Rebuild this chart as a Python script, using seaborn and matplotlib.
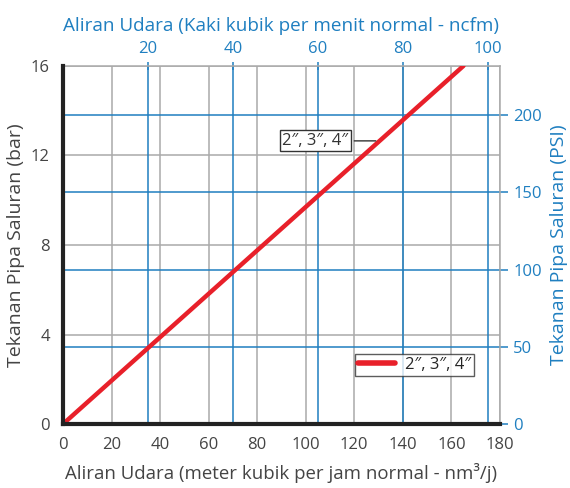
import pandas as pd
import matplotlib.pyplot as plt
import seaborn as sns

# Data: line for 2", 3", 4" pipes
flow_nm3h = [0, 165]
pressure_bar = [0, 16]
series_label = "2\u2033, 3\u2033, 4\u2033"

x_ticks = [0, 20, 40, 60, 80, 100, 120, 140, 160, 180]
y_ticks = [0, 4, 8, 12, 16]
ncfm_ticks = [20, 40, 60, 80, 100]
psi_ticks = [0, 50, 100, 150, 200]

NM3H_PER_NCFM = 1.75
PSI_PER_BAR = 14.5

df = pd.DataFrame({"flow": flow_nm3h, "bar": pressure_bar, "pipe": series_label})

sns.set_style("white")
plt.rcParams['font.family'] = ['Open Sans', 'DejaVu Sans']

grey = "#444444"
blue = "#1f7fc0"
gridgrey = "#aaaaaa"

fig = plt.figure(figsize=(5.7, 4.88), dpi=100)
ax = fig.add_axes([0.1105, 0.131, 0.7665, 0.734])

# grey grid (bottom/left scale)
for xv in x_ticks[1:]:
    ax.axvline(xv, color=gridgrey, lw=1.1, zorder=1)
for yv in y_ticks[1:]:
    ax.axhline(yv, color=gridgrey, lw=1.1, zorder=1)
# blue grid (top/right scale)
for t in ncfm_ticks:
    ax.axvline(t * NM3H_PER_NCFM, color=blue, lw=1.1, zorder=1.5)
for p in psi_ticks[1:]:
    ax.axhline(p / PSI_PER_BAR, color=blue, lw=1.1, zorder=1.5)

sns.lineplot(data=df, x="flow", y="bar", hue="pipe", palette=["#e8202a"],
             lw=3.2, ax=ax, zorder=3)

ax.set_xlim(0, 180)
ax.set_ylim(0, 16)
ax.set_xticks(x_ticks)
ax.set_yticks(y_ticks)
ax.tick_params(axis="both", colors=gridgrey, labelcolor=grey, labelsize=12,
               length=6, width=1.1, direction="out")
ax.set_xlabel("Aliran Udara (meter kubik per jam normal - nm\u00b3/j)",
              fontsize=13.4, color=grey, labelpad=7)
ax.set_ylabel("Tekanan Pipa Saluran (bar)", fontsize=14, color=grey, labelpad=4)

for s in ["left", "bottom"]:
    ax.spines[s].set_color("#222222")
    ax.spines[s].set_linewidth(3)
    ax.spines[s].set_zorder(4)
for s in ["top", "right"]:
    ax.spines[s].set_color(gridgrey)
    ax.spines[s].set_linewidth(1.1)

# top axis: ncfm
top = ax.secondary_xaxis("top", functions=(lambda x: x / NM3H_PER_NCFM,
                                           lambda x: x * NM3H_PER_NCFM))
top.set_xticks(ncfm_ticks)
top.tick_params(colors=blue, labelcolor=blue, labelsize=12, length=6,
                width=1.1, direction="inout")
top.spines["top"].set_visible(False)
top.set_xlabel("Aliran Udara (Kaki kubik per menit normal - ncfm)",
               fontsize=13.6, color=blue, labelpad=7)

# right axis: psi
right = ax.secondary_yaxis("right", functions=(lambda y: y * PSI_PER_BAR,
                                               lambda y: y / PSI_PER_BAR))
right.set_yticks(psi_ticks)
right.tick_params(colors=blue, labelcolor=blue, labelsize=12, length=6,
                  width=1.1, direction="out")
right.spines["right"].set_visible(False)
right.set_ylabel("Tekanan Pipa Saluran (PSI)", fontsize=14, color=blue,
                 labelpad=6)

# label on the line
ax.annotate(series_label, xy=(130, 12.65), xytext=(104, 12.65),
            ha="center", va="center", fontsize=12, color="#333333",
            bbox=dict(boxstyle="square,pad=0.15", fc="white", ec="#333333", lw=1),
            arrowprops=dict(arrowstyle="-", color="#333333", lw=1), zorder=5)

leg = ax.legend(loc="center", bbox_to_anchor=(0.805, 0.165), frameon=True,
                fontsize=12, fancybox=False, handlelength=2.2,
                borderpad=0.2, handletextpad=0.6)
leg.get_frame().set_edgecolor("#333333")
leg.get_frame().set_linewidth(1)
for line in leg.get_lines():
    line.set_linewidth(4)

fig.savefig("out.png", dpi=100)
